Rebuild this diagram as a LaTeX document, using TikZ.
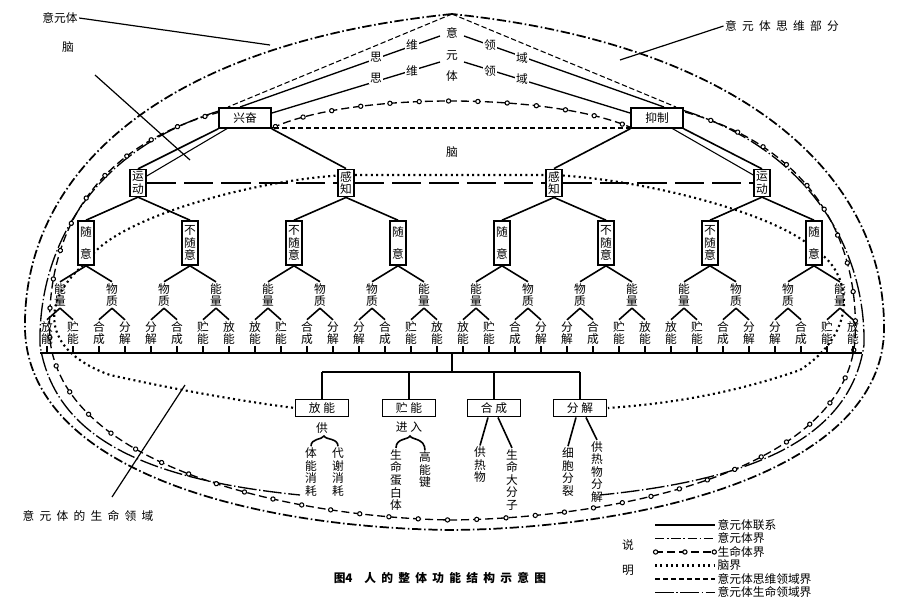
\documentclass[tikz,border=0pt]{standalone}
\usepackage{fontspec}
\setmainfont{Noto Sans CJK SC}
\usetikzlibrary{decorations.markings}
\newcommand\tsp{\hspace{0.45em}}
\begin{document}
\begin{tikzpicture}[x=0.75pt,y=-0.75pt,
  txt/.style={font=\fontsize{8.8}{9.4}\selectfont,align=center,inner sep=1pt},
  box/.style={txt,draw,line width=1.2pt,fill=white},
  vbox/.style={box,text width=9pt,inner sep=1.5pt},
  tree/.style={line width=1.2pt},
  yyt/.style={line width=1.3pt,dash pattern=on 7pt off 2pt on 1.2pt off 2pt},
  smt/.style={line width=1pt,dash pattern=on 6pt off 3pt,
    postaction={decorate},decoration={markings,mark=between positions 0.01 and 1 step 22pt with {\draw[solid,fill=white,line width=0.8pt] (0,0) circle (1.6pt);}}},
  naoj/.style={line width=1.6pt,dash pattern=on 1.5pt off 2.5pt},
  swj/.style={line width=0.8pt,dash pattern=on 4pt off 2pt},
  smly/.style={line width=1pt,dash pattern=on 14pt off 2pt on 1pt off 2pt},
  ]
\useasboundingbox (0,0) rectangle (901,607);
% curves
\draw[yyt] (452,14) .. controls (150,45) and (22,180) .. (25,330) .. controls (30,470) and (250,528) .. (452,530) .. controls (650,528) and (882,470) .. (884,330) .. controls (886,180) and (750,45) .. (452,14);
\draw[smly] (222,110) .. controls (90,150) and (38,250) .. (40,345) .. controls (55,440) and (150,480) .. (300,495);
\draw[smly] (682,110) .. controls (810,150) and (866,250) .. (864,345) .. controls (850,440) and (750,480) .. (600,495);
\draw[smt] (220,112) .. controls (80,150) and (45,250) .. (50,340) .. controls (65,470) and (300,518) .. (452,520) .. controls (620,518) and (845,470) .. (855,340) .. controls (860,250) and (820,150) .. (685,112);
\draw[smt] (272,128) .. controls (350,92) and (550,92) .. (632,128);
\draw[naoj] (87,262) .. controls (110,220) and (250,180) .. (346,175) -- (554,175) .. controls (650,180) and (780,215) .. (815,250) .. controls (850,270) and (862,330) .. (800,370) .. controls (720,398) and (650,405) .. (608,408);
\draw[naoj] (87,262) .. controls (40,300) and (40,350) .. (110,375) .. controls (200,395) and (270,405) .. (295,408);
\draw[swj] (452,14) -- (228,107);
\draw[swj] (452,14) -- (676,107);
\draw[swj] (274,128) -- (630,128);
\draw[line width=1pt] (440,36) -- (240,107);
\draw[line width=1pt] (440,62) -- (272,113);
\draw[line width=1pt] (464,36) -- (664,107);
\draw[line width=1pt] (464,62) -- (630,113);
\draw[line width=0.8pt] (654,118) -- (762,180);
\draw[line width=0.8pt] (245,118) -- (140,180);
% top text
\foreach \t/\x/\y in {意/452/33,元/452/55,体/452/76,思/376/57,维/412/45,领/490/45,域/522/58,思/376/78,维/412/71,领/490/71,域/522/79}
  \node[txt,fill=white] (t\x\y) at (\x,\y) {\t};
\node[txt] (naotxt) at (452,152) {脑};
% level1
\node[box,minimum width=39pt,minimum height=15pt] (L1a) at (245,118) {兴奋};
\node[box,minimum width=39pt,minimum height=15pt] (L1b) at (657,118) {抑制};
% level2
\foreach \i/\x/\t in {1/138/运\\动,2/346/感\\知,3/554/感\\知,4/762/运\\动}
  \node[vbox] (L2\i) at (\x,183) {\t};
\draw[line width=1.6pt,dash pattern=on 22pt off 6pt] (L21.east) -- (L22.west) (L22.east) -- (L23.west) (L23.east) -- (L24.west);
\draw[tree] (L1a.south west) -- (L21.north) (L1a.south east) -- (L22.north) (L1b.south west) -- (L23.north) (L1b.south east) -- (L24.north);
% level3
\foreach \k/\t in {0/随\\[7pt]意,1/不\\随\\意,2/不\\随\\意,3/随\\[7pt]意,4/随\\[7pt]意,5/不\\随\\意,6/不\\随\\意,7/随\\[7pt]意}{
  \pgfmathsetmacro\x{86+104*\k}
  \node[vbox,minimum height=33pt] (L3\k) at (\x,243) {\t};
}
\foreach \p/\a/\b in {1/0/1,2/2/3,3/4/5,4/6/7}
  \draw[tree] (L2\p.south) -- (L3\a.north) (L2\p.south) -- (L3\b.north);
% level4
\foreach \k/\t in {0/能\\量,1/物\\质,2/物\\质,3/能\\量,4/能\\量,5/物\\质,6/物\\质,7/能\\量,8/能\\量,9/物\\质,10/物\\质,11/能\\量,12/能\\量,13/物\\质,14/物\\质,15/能\\量}{
  \pgfmathsetmacro\x{60+52*\k}
  \node[txt] (L4\k) at (\x,295) {\t};
  \pgfmathtruncatemacro\pp{int(\k/2)}
  \draw[tree] (L3\pp.south) -- (L4\k.north);
}
% level5
\foreach \i/\t in {0/放\\能,1/贮\\能,2/合\\成,3/分\\解,4/分\\解,5/合\\成,6/贮\\能,7/放\\能}{
 \foreach \r in {0,1,2,3}{
  \pgfmathtruncatemacro\n{\i+8*\r}
  \pgfmathsetmacro\x{47+26*\n}
  \pgfmathtruncatemacro\pp{int(\n/2)}
  \node[txt] (L5\n) at (\x,333) {\t};
  \draw[tree] (L4\pp.south) -- (L5\n.north);
  \draw[line width=1.2pt] (L5\n.south) -- (\x,353);
 }}
\draw[line width=1.4pt] (40,353) -- (862,353);
\coordinate (busc) at (452,353);
\coordinate (bus2l) at (322,372);
\coordinate (bus2r) at (580,372);
\draw[line width=1.4pt] (busc) -- (452,372) (bus2l) -- (bus2r);
\foreach \i/\x/\t in {1/322/放~能,2/409/贮~能,3/494/合~成,4/580/分~解}{
  \node[box,minimum width=40pt,minimum height=13pt] (B\i) at (\x,408) {\t};
  \draw[line width=1.4pt] (\x,372) -- (B\i.north);
}
\node[txt] (gong) at (322,428) {供};
\node[txt] (tn) at (311,472) {体\\能\\消\\耗};
\node[txt] (dx) at (338,472) {代\\谢\\消\\耗};
\draw[line width=1.2pt] (tn.north) .. controls (311,438) and (322,440) .. (324,436) .. controls (326,440) and (338,438) .. (dx.north);
\node[txt] (jr) at (409,427) {进~入};
\node[txt] (sm) at (396,480) {生\\命\\蛋\\白\\体};
\node[txt] (gn) at (425,470) {高\\能\\键};
\draw[line width=1.2pt] (sm.north) .. controls (396,438) and (408,440) .. (410,436) .. controls (412,440) and (425,438) .. (gn.north);
\node[txt] (grw) at (480,465) {供\\热\\物};
\node[txt] (dfz) at (512,480) {生\\命\\大\\分\\子};
\draw[line width=1.2pt] (B3.south) ++(-6,0) -- (grw.north);
\draw[line width=1.2pt] (B3.south) ++(4,0) -- (dfz.north);
\node[txt] (xb) at (568,472) {细\\胞\\分\\裂};
\node[txt] (grf) at (597,472) {供\\热\\物\\分\\解};
\draw[line width=1.2pt] (B4.south) ++(-4,0) -- (xb.north);
\draw[line width=1.2pt] (B4.south) ++(6,0) -- (grf.north);
% labels with pointers
\node[txt] (lab1) at (60,18) {意元体};
\draw[line width=0.9pt] (lab1.east) -- (270,45);
\node[txt] (lab2) at (68,47) {脑};
\draw[line width=0.9pt] (95,75) -- (190,160);
\node[txt] (lab3) at (782,26) {意\tsp 元\tsp 体\tsp 思\tsp 维\tsp 部\tsp 分};
\draw[line width=0.9pt] (lab3.west) -- (620,60);
\node[txt] (lab4) at (88,516) {意\tsp 元\tsp 体\tsp 的\tsp 生\tsp 命\tsp 领\tsp 域};
\draw[line width=0.9pt] (112,497) -- (185,385);
% title
\node[txt,font=\bfseries\fontsize{8.8}{9}\selectfont] (title) at (440,578) {图4\hspace{1em}人\tsp 的\tsp 整\tsp 体\tsp 功\tsp 能\tsp 结\tsp 构\tsp 示\tsp 意\tsp 图};
% legend
\node[txt] (sm1) at (628,545) {说};
\node[txt] (sm2) at (628,570) {明};
\foreach \j/\s/\t in {0/tree/意元体联系,1/yyt/意元体界,2/smt/生命体界,3/naoj/脑界,4/swj/意元体思维领域界,5/smly/意元体生命领域界}{
  \pgfmathsetmacro\y{525+13.5*\j}
  \coordinate (lg\j a) at (655,\y);
  \coordinate (lg\j b) at (715,\y);
  \draw[\s] (lg\j a) -- (lg\j b);
  \node[txt,anchor=west] (lgt\j) at (716,\y) {\t};
}
\end{tikzpicture}
\end{document}
